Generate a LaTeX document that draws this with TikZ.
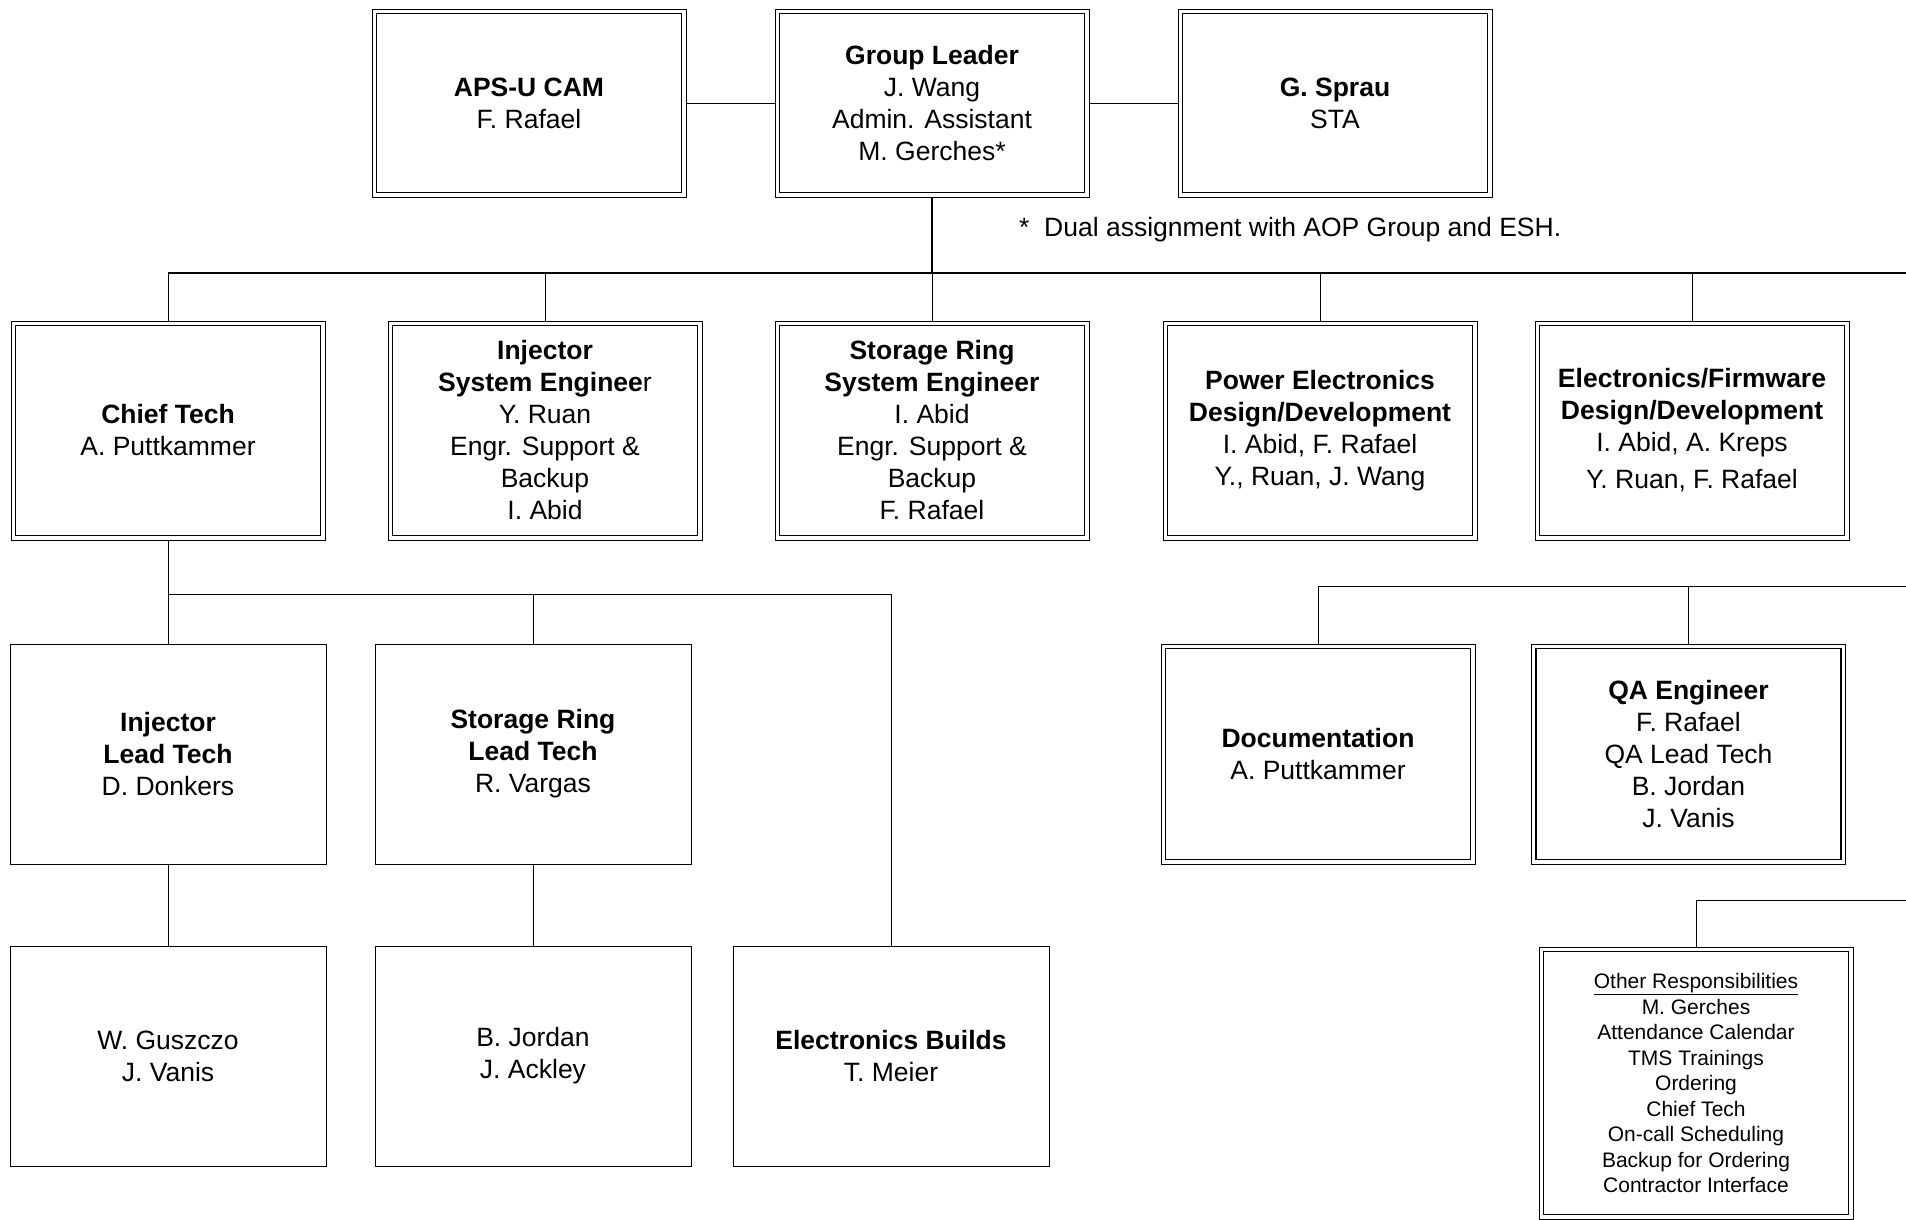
\documentclass[tikz,border=0pt]{standalone}
\usepackage{fontspec}
\setmainfont{Liberation Sans}
\usetikzlibrary{positioning}
\newcommand{\boxfont}{\fontsize{26.5}{32}\selectfont}
\newcommand{\notefont}{\fontsize{21}{25.5}\selectfont}

\begin{document}
\begin{tikzpicture}[x=1pt,y=-1pt,
  box/.style={draw,line width=0.9pt,minimum width=314pt,minimum height=220pt,
    align=center,inner sep=2pt,outer sep=0pt,font=\boxfont},
  dbox/.style={box,path picture={\draw[line width=1.8pt]
    ([shift={(4.5pt,4.5pt)}]path picture bounding box.south west) rectangle
    ([shift={(-4.5pt,-4.5pt)}]path picture bounding box.north east);}},
  link/.style={line width=0.9pt},
  bus/.style={line width=1.8pt}
]
\useasboundingbox (0,0) rectangle (1906,1220);
\coordinate (edge) at (1906,0);
\coordinate (topbus) at (0,273);
\coordinate (ctbus) at (0,594);
\coordinate (rbus) at (0,586);
\coordinate (obus) at (0,900);

\node[dbox,minimum height=188pt] (gl) at (932,103) {\textbf{Group Leader}\\J. Wang\\Admin. Assistant\\M. Gerches*};
\node[dbox,minimum height=188pt,left=89pt of gl] (cam) {\textbf{APS-U CAM}\\F. Rafael};
\node[dbox,minimum height=188pt,right=89pt of gl] (sprau) {\textbf{G. Sprau}\\STA};
\node[anchor=west,inner sep=0pt,font=\boxfont] (dual) at (1019,230) {*\ \ Dual assignment with AOP Group and ESH.};

\node[dbox,minimum height=219pt,below=124pt of gl] (srse) {\textbf{Storage Ring}\\\textbf{System Engineer}\\I. Abid\\Engr. Support \&\\Backup\\F. Rafael};
\node[dbox,minimum height=219pt,left=73pt of srse] (injse) {\textbf{Injector}\\\textbf{System Enginee}r\\Y. Ruan\\Engr. Support \&\\Backup\\I. Abid};
\node[dbox,minimum height=219pt,left=63pt of injse] (chief) {\textbf{Chief Tech}\\A. Puttkammer};
\node[dbox,minimum height=219pt,right=74pt of srse] (pe) {\textbf{Power Electronics}\\\textbf{Design/Development}\\I. Abid, F. Rafael\\Y., Ruan, J. Wang};
\node[dbox,minimum height=219pt,right=58pt of pe] (ef) {\textbf{Electronics/Firmware}\\\textbf{Design/Development}\\I. Abid, A. Kreps\\[5pt]Y. Ruan, F. Rafael};

\node[box,minimum width=316pt,below=104pt of chief] (injlt) {\textbf{Injector}\\\textbf{Lead Tech}\\D. Donkers};
\node[box,minimum width=316pt,right=49pt of injlt] (srlt) {\textbf{Storage Ring}\\\textbf{Lead Tech}\\R. Vargas};
\node[box,minimum width=316pt,below=82pt of injlt] (wg) {W. Guszczo\\J. Vanis};
\node[box,minimum width=316pt,right=49pt of wg] (bj) {B. Jordan\\J. Ackley};
\node[box,minimum width=316pt,right=42pt of bj] (eb) {\textbf{Electronics Builds}\\T. Meier};

\node[dbox,below=104pt of pe,xshift=-2pt] (doc) {\textbf{Documentation}\\A. Puttkammer};
\node[dbox,below=104pt of ef,xshift=-3.5pt] (qa) {\textbf{QA Engineer}\\F. Rafael\\QA Lead Tech\\B. Jordan\\J. Vanis};
\node[dbox,minimum height=272pt,font=\notefont,below=83pt of qa,xshift=7.5pt] (other) {\underline{Other Responsibilities}\\M. Gerches\\Attendance Calendar\\TMS Trainings\\Ordering\\Chief Tech\\On-call Scheduling\\Backup for Ordering\\Contractor Interface};

\draw[link] (cam) -- (gl);
\draw[link] (gl) -- (sprau);
\draw[bus] (gl.south) -- (gl.south |- topbus);
\draw[bus] (chief.north |- topbus) -- (edge |- topbus);
\foreach \n in {chief,injse,srse,pe,ef}
  \draw[link] (\n.north) -- (\n.north |- topbus);
\draw[link] (chief.south) -- (chief.south |- ctbus) -| (eb.north);
\foreach \n in {injlt,srlt}
  \draw[link] (\n.north) -- (\n.north |- ctbus);
\draw[link] (injlt) -- (wg);
\draw[link] (srlt) -- (bj);
\draw[link] (doc.north) |- (edge |- rbus);
\draw[link] (qa.north) -- (qa.north |- rbus);
\draw[link] (other.north) |- (edge |- obus);
\end{tikzpicture}
\end{document}
